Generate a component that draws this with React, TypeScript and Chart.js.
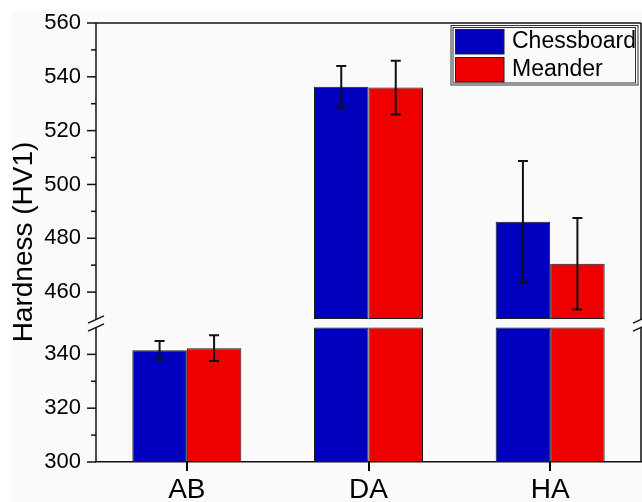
import React, { useEffect, useRef } from 'react';
import { Chart, registerables } from 'chart.js';

Chart.register(...registerables);

// ---- data ----
const categories = ['AB', 'DA', 'HA'];
const seriesNames = ['Chessboard', 'Meander'];
const chessboardValues = [341.5, 536.3, 486.1];
const chessboardErrors = [3.5, 7.7, 22.6];
const meanderValues = [342.3, 536.0, 470.5];
const meanderErrors = [4.8, 10.0, 17.0];
const lowRange = [300, 350];
const highRange = [450, 560];
const majorStep = 20;
const minorStep = 10;

const seriesValues = [chessboardValues, meanderValues];
const seriesErrors = [chessboardErrors, meanderErrors];
const seriesColors = ['#0000BE', '#EE0000'];

const FONT = "'Liberation Sans', Arial, sans-serif";
const GAP_UNITS = 3.15;
const AXIS_COLOR = '#111111';

const lowData = (vals: number[]) => vals.map((v) => [lowRange[0], Math.min(v, lowRange[1])]);
const highData = (vals: number[]) => vals.map((v) => (v > highRange[0] ? [highRange[0], v] : null));

const decorPlugin = {
  id: 'decor',
  beforeDraw(chart: any) {
    const ctx = chart.ctx;
    ctx.save();
    ctx.fillStyle = '#ffffff';
    ctx.fillRect(0, 0, chart.width, chart.height);
    ctx.fillStyle = '#fafafa';
    ctx.fillRect(11, 12, chart.width - 11, chart.height - 12);
    ctx.restore();
  },
  afterDatasetsDraw(chart: any) {
    const ctx = chart.ctx;
    const yLow = chart.scales.yLow;
    const yHigh = chart.scales.yHigh;
    const px = (v: number) => (v >= highRange[0] ? yHigh.getPixelForValue(v) : yLow.getPixelForValue(v));
    ctx.save();
    ctx.strokeStyle = '#111111';
    ctx.lineWidth = 2;
    seriesValues.forEach((vals, s) => {
      const meta = chart.getDatasetMeta(s * 2);
      vals.forEach((v, i) => {
        const el = meta.data[i];
        if (!el) return;
        const x = el.x;
        const e = seriesErrors[s][i];
        const yT = px(v + e);
        const yB = px(v - e);
        ctx.beginPath();
        ctx.moveTo(x, yT);
        ctx.lineTo(x, yB);
        ctx.moveTo(x - 5, yT);
        ctx.lineTo(x + 5, yT);
        ctx.moveTo(x - 5, yB);
        ctx.lineTo(x + 5, yB);
        ctx.stroke();
      });
    });
    ctx.restore();
  },
  afterDraw(chart: any) {
    const ctx = chart.ctx;
    const area = chart.chartArea;
    const left = area.left;
    const right = area.right;
    const top = area.top;
    const bottom = area.bottom;
    const yLow = chart.scales.yLow;
    const yHigh = chart.scales.yHigh;
    const breakTop = yHigh.getPixelForValue(highRange[0]);
    const breakBottom = yLow.getPixelForValue(lowRange[1]);
    ctx.save();
    // x ticks at category centres (midpoint of the two bars of each group)
    const m0 = chart.getDatasetMeta(0).data;
    const m1 = chart.getDatasetMeta(2).data;
    ctx.fillStyle = '#000000';
    for (let i = 0; i < categories.length; i++) {
      const cx = Math.round((m0[i].x + m1[i].x) / 2);
      ctx.fillRect(cx - 1, bottom, 2, 9);
    }
    ctx.strokeStyle = AXIS_COLOR;
    ctx.lineWidth = 1.5;
    // frame top
    ctx.beginPath();
    ctx.moveTo(left, top);
    ctx.lineTo(right, top);
    ctx.stroke();
    // left & right axis lines with break
    [left, right].forEach((ax) => {
      ctx.beginPath();
      ctx.moveTo(ax, top);
      ctx.lineTo(ax, breakTop + 0.5);
      ctx.moveTo(ax, breakBottom);
      ctx.lineTo(ax, bottom);
      ctx.stroke();
      [breakTop + 0.5, breakBottom].forEach((by) => {
        ctx.beginPath();
        ctx.moveTo(ax - 8, by + 3.6);
        ctx.lineTo(ax + 8, by - 3.6);
        ctx.stroke();
      });
    });
    // y ticks
    const drawTicks = (scale: any, from: number, to: number) => {
      for (let v = from; v <= to + 1e-6; v += minorStep) {
        const ty = scale.getPixelForValue(v);
        const len = v % majorStep === 0 ? 9 : 5;
        ctx.beginPath();
        ctx.moveTo(left - len, ty);
        ctx.lineTo(left, ty);
        ctx.stroke();
      }
    };
    drawTicks(yLow, lowRange[0], lowRange[1] - minorStep);
    drawTicks(yHigh, highRange[0] + minorStep, highRange[1]);
    // y title
    ctx.fillStyle = '#000000';
    ctx.font = `28px ${FONT}`;
    ctx.textAlign = 'center';
    ctx.textBaseline = 'alphabetic';
    ctx.translate(32, 242);
    ctx.rotate(-Math.PI / 2);
    ctx.fillText('Hardness (HV1)', 0, 0);
    ctx.restore();

    // legend
    ctx.save();
    ctx.strokeStyle = '#333333';
    ctx.lineWidth = 1;
    ctx.strokeRect(451, 25.5, 187, 59.5);
    ctx.strokeRect(453, 27.5, 182.5, 55.5);
    seriesNames.forEach((name, s) => {
      const ly = 29 + s * 28;
      ctx.fillStyle = seriesColors[s];
      ctx.fillRect(455, ly, 49, 25);
      ctx.strokeStyle = '#222222';
      ctx.strokeRect(455.5, ly + 0.5, 48.5, 24.5);
      ctx.fillStyle = '#000000';
      ctx.font = `23px ${FONT}`;
      ctx.textAlign = 'left';
      ctx.textBaseline = 'middle';
      ctx.fillText(name, 512, ly + 12.5);
    });
    ctx.restore();
  },
};

export default function App() {
  const ref = useRef<HTMLCanvasElement | null>(null);
  useEffect(() => {
    if (!ref.current) return;
    const datasets: any[] = [];
    seriesNames.forEach((name, s) => {
      const common = {
        label: name,
        backgroundColor: seriesColors[s],
        borderColor: '#1a1a1a',
        borderWidth: 1,
        borderSkipped: false,
        stack: 's' + s,
        categoryPercentage: 0.6,
        barPercentage: 1.0,
      };
      datasets.push({ ...common, data: lowData(seriesValues[s]), yAxisID: 'yLow' });
      datasets.push({ ...common, data: highData(seriesValues[s]), yAxisID: 'yHigh' });
    });
    const yCommon = {
      position: 'left',
      stack: 'hardness',
      stacked: false,
      grid: { display: false, drawTicks: false, drawOnChartArea: false },
      border: { display: false },
      ticks: {
        stepSize: minorStep,
        autoSkip: false,
        padding: 15,
        color: '#000000',
        font: { family: FONT, size: 22 },
        callback: (v: any) => (Math.abs(v % majorStep) < 1e-6 ? String(v) : ''),
      },
      afterFit: (scale: any) => {
        scale.width = 96;
        scale.paddingTop = 0;
        scale.paddingBottom = 0;
      },
    };
    const chart = new Chart(ref.current, {
      type: 'bar',
      data: { labels: categories, datasets },
      options: {
        animation: false,
        responsive: false,
        devicePixelRatio: 1,
        layout: { padding: { top: 23, right: 1, bottom: 0, left: 0 } },
        plugins: { legend: { display: false }, tooltip: { enabled: false }, title: { display: false } },
        scales: {
          x: {
            grid: { display: false, drawTicks: true, tickLength: 8 },
            border: { display: true, color: AXIS_COLOR, width: 1.5 },
            ticks: { color: '#000000', padding: 3, font: { family: FONT, size: 28 } },
            afterFit: (scale: any) => {
              scale.height = 40;
              scale.paddingLeft = 0;
              scale.paddingRight = 0;
            },
          },
          yLow: { ...yCommon, min: lowRange[0], max: lowRange[1] + GAP_UNITS, stackWeight: lowRange[1] + GAP_UNITS - lowRange[0], weight: 0 },
          yHigh: { ...yCommon, min: highRange[0], max: highRange[1], stackWeight: highRange[1] - highRange[0], weight: 1 },
        } as any,
      },
      plugins: [decorPlugin],
    });
    return () => chart.destroy();
  }, []);
  return (
    <div style={{ position: 'absolute', left: 0, top: 0, width: 642, height: 502 }}>
      <canvas ref={ref} width={642} height={502} style={{ display: 'block', width: 642, height: 502 }} />
    </div>
  );
}
